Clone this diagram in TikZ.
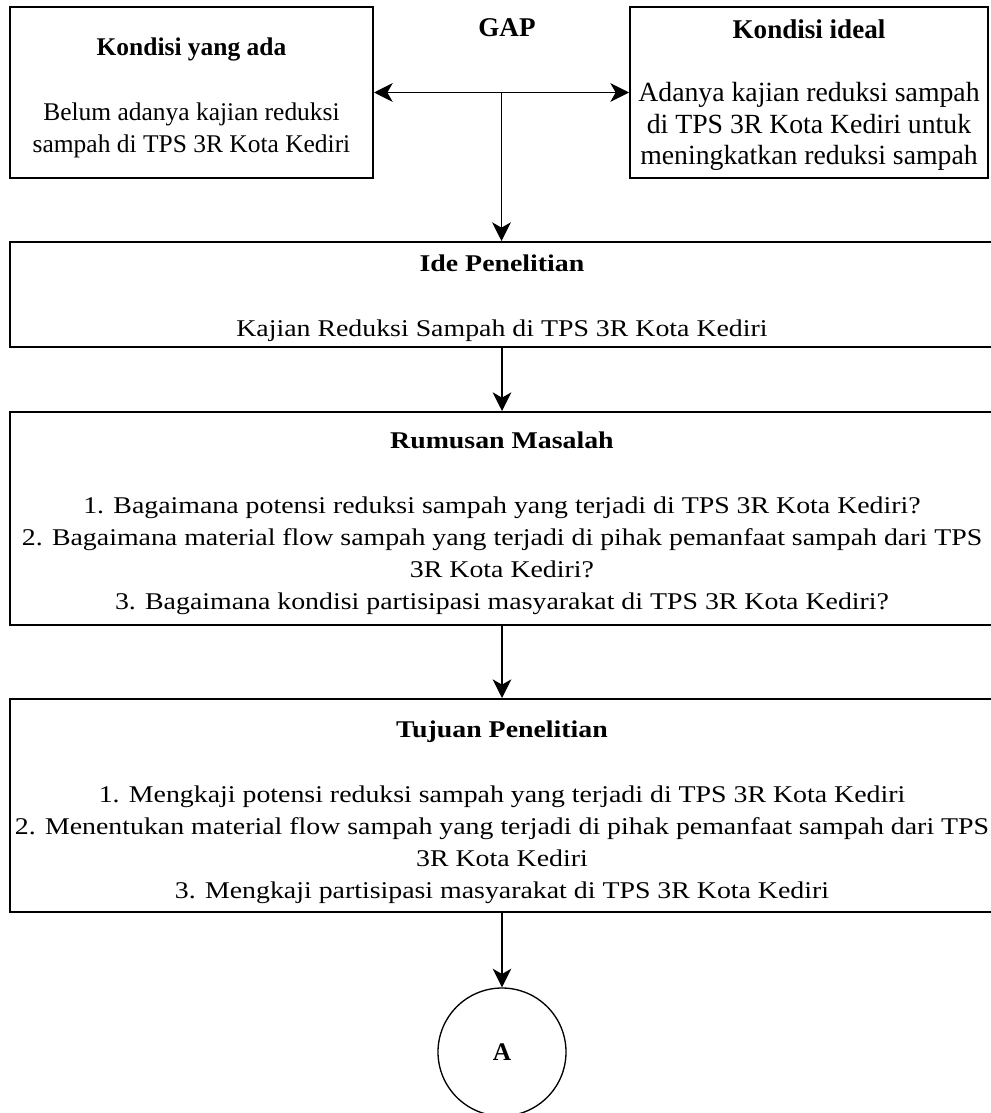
\documentclass[tikz,border=0pt]{standalone}
\usepackage{fontspec}
\setmainfont{Liberation Serif}
\newfontfamily\wideserif[FakeStretch=1.16]{Liberation Serif}
\usetikzlibrary{arrows.meta}

\newcommand\headfont{\fontsize{20.3}{24.4}\selectfont\bfseries}
\newcommand\leftfont{\fontsize{19.1}{24.4}\selectfont}
\newcommand\rightfont{\fontsize{20.8}{23.6}\selectfont}
\newcommand\lowfont{\wideserif\fontsize{18}{24}\selectfont}
\newcommand\padabove[1]{\rule{0pt}{#1}}

\begin{document}
\begin{tikzpicture}[x=0.75pt,y=-0.75pt,
  >={Stealth[length=14pt,width=14pt,inset=4pt]},
  box/.style={draw,line width=1.5pt,inner sep=0pt,align=center},
  widebox/.style={box,minimum width=738pt,font=\lowfont},
  link/.style={line width=1pt,->}]
  \useasboundingbox (0,0) rectangle (990,1113);

  % Top row: existing and ideal condition
  \node[box,minimum width=272.25pt,minimum height=128.25pt,font=\leftfont] (ada) at (191.5,92.5)
    {\padabove{21.3pt}{\bfseries Kondisi yang ada}\\[24.4pt]
     Belum adanya kajian reduksi\\
     sampah di TPS 3R Kota Kediri};
  \node[box,minimum width=268.5pt,minimum height=128.25pt,font=\rightfont] (ideal) at (809,92.5)
    {\padabove{18.4pt}{\headfont Kondisi ideal}\\[23.6pt]
     Adanya kajian reduksi sampah\\
     di TPS 3R Kota Kediri untuk\\
     meningkatkan reduksi sampah};
  \node[anchor=base,font=\headfont] (gap) at (507,37) {GAP};

  % Gap between the two conditions
  \draw[line width=1pt,<->] (ada.east) -- (ideal.west) coordinate[midway] (gapmid);

  % Research flow
  \node[widebox,minimum height=78.75pt] (ide) at (502,294.5)
    {\padabove{17.9pt}{\bfseries Ide Penelitian}\\[24.5pt]
     Kajian Reduksi Sampah di TPS 3R Kota Kediri};
  \node[widebox,minimum height=159.75pt] (rumusan) at (502,518.5)
    {\padabove{20.1pt}{\bfseries Rumusan Masalah}\\[24.5pt]
     1. Bagaimana potensi reduksi sampah yang terjadi di TPS 3R Kota Kediri?\\
     2. Bagaimana material flow sampah yang terjadi di pihak pemanfaat sampah dari TPS\\
     3R Kota Kediri?\\
     3. Bagaimana kondisi partisipasi masyarakat di TPS 3R Kota Kediri?};
  \node[widebox,minimum height=159.75pt] (tujuan) at (502,805.5)
    {\padabove{23.1pt}{\bfseries Tujuan Penelitian}\\[24.5pt]
     1. Mengkaji potensi reduksi sampah yang terjadi di TPS 3R Kota Kediri\\
     2. Menentukan material flow sampah yang terjadi di pihak pemanfaat sampah dari TPS\\
     3R Kota Kediri\\
     3. Mengkaji partisipasi masyarakat di TPS 3R Kota Kediri};

  % Off-page connector
  \node[draw,circle,line width=1pt,minimum size=96pt,inner sep=0pt,
        font=\fontsize{19}{19}\selectfont\bfseries] (konektor) at (502,1052) {A};

  \draw[link] (gapmid) -- (gapmid |- ide.north);
  \draw[link] (ide) -- (rumusan);
  \draw[link] (rumusan) -- (tujuan);
  \draw[link] (tujuan) -- (konektor);
\end{tikzpicture}
\end{document}
